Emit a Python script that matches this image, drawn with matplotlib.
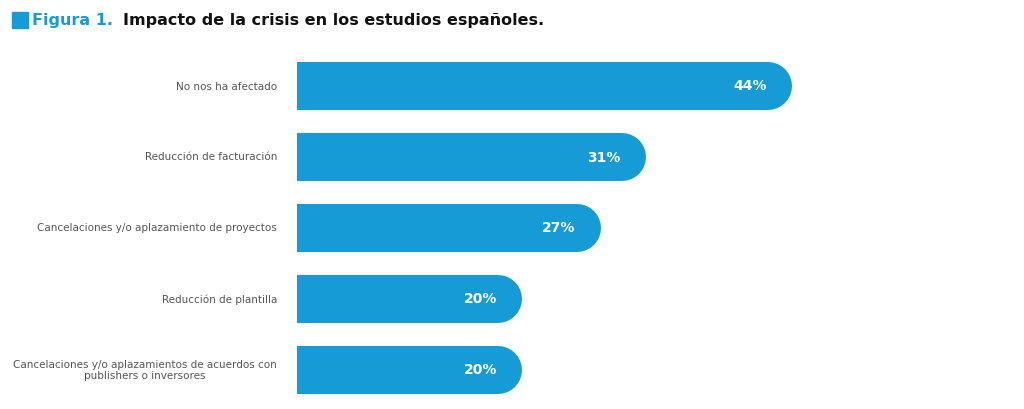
import matplotlib
matplotlib.use("Agg")
import matplotlib.pyplot as plt
from matplotlib.patches import Rectangle

categorias = ["No nos ha afectado",
              "Reducción de facturación",
              "Cancelaciones y/o aplazamiento de proyectos",
              "Reducción de plantilla",
              "Cancelaciones y/o aplazamientos de acuerdos con\npublishers o inversores"]
valores = [44, 31, 27, 20, 20]

azul = "#169bd7"
fuente = "DejaVu Sans"

fig = plt.figure(figsize=(10.24, 4.1), dpi=100)
ax = fig.add_axes([297/1024, 4/410, 706/1024, 355/410])
px = 706/62.8          # pixels per unit
r = 24/px              # radius of rounded end in data units

for i, (c, v) in enumerate(zip(categorias, valores)):
    ax.plot([0, v - r], [i, i], color=azul, lw=48*72/100, solid_capstyle="round")
    ax.text(v - 25/px, i, f"{v}%", color="white", fontsize=10, fontweight="bold",
            ha="right", va="center", family=fuente)
    ax.text(-20/px, i, c, color="#555555", fontsize=7.5, ha="right", va="center",
            family=fuente, multialignment="center", clip_on=False)

ax.set_xlim(0, 62.8)
ax.set_ylim(4.5, -0.5)
ax.axis("off")

fig.patches.append(Rectangle((12/1024, 1-29/410), 16/1024, 16/410,
                             transform=fig.transFigure, color=azul))
t1 = fig.text(32/1024, 1-21/410, "Figura 1.", color=azul, fontsize=11.5, fontweight="bold",
              va="center", family=fuente)
fig.canvas.draw()
bb = t1.get_window_extent()
fig.text((bb.x1 + 10)/1024, 1-21/410, "Impacto de la crisis en los estudios españoles.",
         color="#111111", fontsize=11.5, fontweight="bold", va="center", family=fuente)

fig.savefig("out.png", dpi=100)
